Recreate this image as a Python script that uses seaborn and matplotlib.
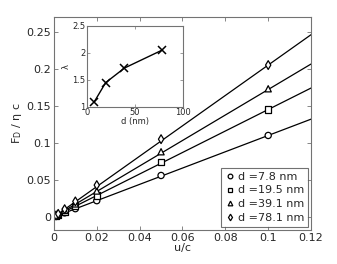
import pandas as pd
import numpy as np
import matplotlib
matplotlib.use("Agg")
import matplotlib.pyplot as plt
import matplotlib.ticker as mticker
import seaborn as sns

# particle sizes (nm) and fitted slopes lambda
d_nm = [7.8, 19.5, 39.1, 78.1]
lam = [1.1, 1.45, 1.72, 2.05]

# measured velocities u/c
u_c = [0.001, 0.002, 0.005, 0.01, 0.02, 0.05, 0.1]

# drag force F_D / eta c for each size
f_78 = [0.0011, 0.0022, 0.0056, 0.0112, 0.022, 0.056, 0.110]
f_195 = [0.0015, 0.0030, 0.0073, 0.0146, 0.029, 0.074, 0.145]
f_391 = [0.0018, 0.0035, 0.0088, 0.0176, 0.035, 0.088, 0.173]
f_781 = [0.0021, 0.0042, 0.0105, 0.0210, 0.043, 0.105, 0.205]

labels = ["d =7.8 nm", "d =19.5 nm", "d =39.1 nm", "d =78.1 nm"]
marks = ["o", "s", "^", "d"]

rows = []
for lab, ys in zip(labels, [f_78, f_195, f_391, f_781]):
    for x, y in zip(u_c, ys):
        rows.append({"u/c": x, "F": y, "size": lab})
df = pd.DataFrame(rows)

sns.set_style("ticks")
plt.rcParams["font.family"] = ["DejaVu Sans"]
plt.rcParams["xtick.direction"] = "in"
plt.rcParams["ytick.direction"] = "in"

fig = plt.figure(figsize=(3.37, 2.64), dpi=100)
ax = fig.add_axes([0.160, 0.129, 0.763, 0.807])

# fitted lines through origin
xfit = np.array([0, 0.12])
for l in lam:
    ax.plot(xfit, l * xfit, color="k", lw=0.9, zorder=1)

sns.scatterplot(data=df, x="u/c", y="F", style="size",
                markers=dict(zip(labels, marks)), color="white",
                edgecolor="black", linewidth=0.9, s=20, ax=ax, zorder=2)

ax.set_xlim(0, 0.12)
ax.set_ylim(-0.0175, 0.27)
ax.set_xticks([0, 0.02, 0.04, 0.06, 0.08, 0.1, 0.12])
ax.set_yticks([0, 0.05, 0.1, 0.15, 0.2, 0.25])
ax.xaxis.set_major_formatter(mticker.FormatStrFormatter("%g"))
ax.yaxis.set_major_formatter(mticker.FormatStrFormatter("%g"))
ax.tick_params(labelsize=8, length=3, width=0.6, color="0.45",
               top=True, right=True, pad=2)
ax.set_xlabel("u/c", fontsize=8, labelpad=0)
ax.set_ylabel(r"F$_\mathrm{D}$ / η c", fontsize=8, labelpad=2)
for sp in ax.spines.values():
    sp.set_color("0.45")
    sp.set_linewidth(0.8)

h, l_ = ax.get_legend_handles_labels()
leg = ax.legend(h, l_, loc="lower right", fontsize=8, frameon=True,
                fancybox=False, edgecolor="0.3", handletextpad=0.2,
                handlelength=1.0, borderpad=0.3, labelspacing=0.35,
                markerscale=0.75, borderaxespad=0.3)
leg.get_frame().set_linewidth(0.8)

# inset: lambda vs d
ins = fig.add_axes([0.258, 0.595, 0.285, 0.307])
sns.lineplot(x=d_nm, y=lam, marker="x", color="k", markersize=6,
             markeredgecolor="k", markeredgewidth=1.1, lw=1.0, ax=ins)
ins.set_xlim(0, 100)
ins.set_ylim(1, 2.5)
ins.set_xticks([0, 50, 100])
ins.set_yticks([1, 1.5, 2, 2.5])
ins.yaxis.set_major_formatter(mticker.FormatStrFormatter("%g"))
ins.tick_params(labelsize=6, length=2, width=0.5, color="0.45",
                top=True, right=True, pad=1)
ins.set_xlabel("d (nm)", fontsize=6, labelpad=0)
ins.set_ylabel("λ", fontsize=6, labelpad=1)
for sp in ins.spines.values():
    sp.set_color("0.45")
    sp.set_linewidth(0.8)

fig.savefig("out.png", dpi=100)
